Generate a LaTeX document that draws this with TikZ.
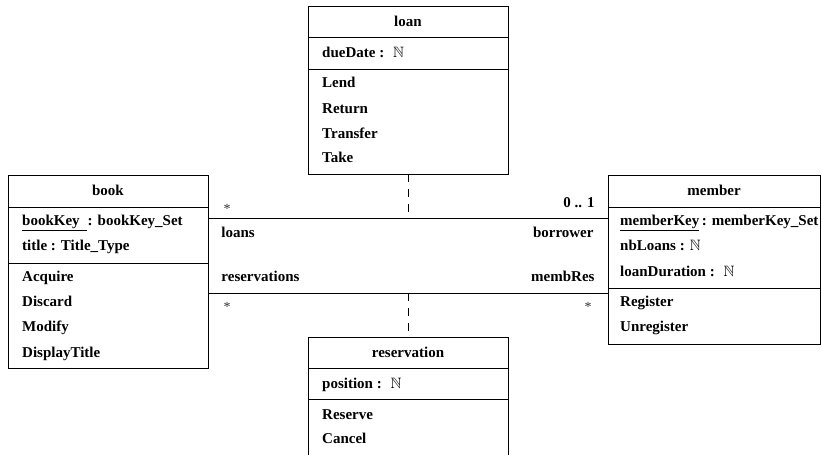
\documentclass[tikz,border=0pt]{standalone}
\usepackage{amssymb}
\usepackage{fontspec}
\setmainfont{Liberation Serif}
\usetikzlibrary{
    positioning,
    calc
}
\newcommand{\nat}{\ensuremath{\mathbb{N}}}

\begin{document}
\begin{tikzpicture}[
    x=1pt, y=-1pt,
    font=\fontsize{15}{18}\selectfont\bfseries,
    umlclass/.style={draw, line width=0.8pt, inner sep=0pt, outer sep=0pt, anchor=north west},
    entry/.style={anchor=base west, inner sep=0pt},
    classname/.style={anchor=base, inner sep=0pt},
    assoc/.style={line width=0.9pt},
    role/.style={inner sep=0pt},
    many/.style={inner sep=0pt, anchor=base, text=black!80, font=\fontsize{14}{16}\selectfont\mdseries},
    link/.style={line width=0.8pt, dash pattern=on 7.5pt off 7.5pt}
]

\useasboundingbox (0,0) rectangle (822,455);
\clip (0,0) rectangle (822,455);

% classes
\node[umlclass, minimum width=200pt, minimum height=168pt] (loan) at (308,6) {};
\draw[line width=0.8pt] (loan.west |- 0,37) -- (loan.east |- 0,37);
\draw[line width=0.8pt] (loan.west |- 0,69) -- (loan.east |- 0,69);

\node[umlclass, minimum width=200pt, minimum height=193pt] (book) at (8,175) {};
\draw[line width=0.8pt] (book.west |- 0,207) -- (book.east |- 0,207);
\draw[line width=0.8pt] (book.west |- 0,263) -- (book.east |- 0,263);

\node[umlclass, minimum width=212pt, minimum height=169pt] (member) at (608,175) {};
\draw[line width=0.8pt] (member.west |- 0,207) -- (member.east |- 0,207);
\draw[line width=0.8pt] (member.west |- 0,288) -- (member.east |- 0,288);

\node[umlclass, minimum width=200pt, minimum height=133pt] (resv) at (308,337) {};
\draw[line width=0.8pt] (resv.west |- 0,368) -- (resv.east |- 0,368);
\draw[line width=0.8pt] (resv.west |- 0,399) -- (resv.east |- 0,399);

% loan
\node[classname] (loanname) at (408,26.5) {loan};
\node[entry] (loanattr) at (322,57) {dueDate : \ \nat};
\node[entry] (lend) at (322,87.5) {Lend};
\node[entry] (return) at (322,113) {Return};
\node[entry] (transfer) at (322,138) {Transfer};
\node[entry] (take) at (322,162.5) {Take};

% book
\node[classname] (bookname) at (108,195) {book};
\node[entry] (bookkey) at (22,225) {\underline{bookKey\hspace{7pt}}\hspace{1pt}: bookKey\_Set};
\node[entry] (booktitle) at (22,250.5) {title : Title\_Type};
\node[entry] (acquire) at (22,281) {Acquire};
\node[entry] (discard) at (22,306) {Discard};
\node[entry] (modify) at (22,331.5) {Modify};
\node[entry] (display) at (22,357) {DisplayTitle};

% member
\node[classname] (membername) at (714,195) {member};
\node[entry] (memberkey) at (620,225) {\underline{memberKey}\,: memberKey\_Set};
\node[entry] (nbloans) at (620,250.5) {nbLoans : \nat};
\node[entry] (duration) at (620,276) {loanDuration : \ \nat};
\node[entry] (register) at (620,306) {Register};
\node[entry] (unregister) at (620,331) {Unregister};

% reservation
\node[classname] (resvname) at (408,357) {reservation};
\node[entry] (position) at (322,388) {position : \ \nat};
\node[entry] (reserve) at (322,419) {Reserve};
\node[entry] (cancel) at (322,443.5) {Cancel};

% associations
\draw[assoc] (book.east |- 0,218) -- (member.west |- 0,218)
    coordinate[pos=0.5] (loanlink)
    node[many, pos=0, xshift=19pt, yshift=5pt] (loanmult) {*}
    node[role, pos=0, anchor=base west, xshift=13pt, yshift=-19pt] (loansrole) {loans}
    node[role, pos=1, anchor=base east, xshift=-13pt, yshift=11pt] (borrowmult) {0 .. 1}
    node[role, pos=1, anchor=base east, xshift=-14pt, yshift=-19pt] (borrowrole) {borrower};

\draw[assoc] (book.east |- 0,293) -- (member.west |- 0,293)
    coordinate[pos=0.5] (resvlink)
    node[role, pos=0, anchor=base west, xshift=13pt, yshift=12pt] (resvrole) {reservations}
    node[many, pos=0, xshift=19pt, yshift=-18pt] (resvmult) {*}
    node[role, pos=1, anchor=base east, xshift=-13pt, yshift=12pt] (membrole) {membRes}
    node[many, pos=1, xshift=-20pt, yshift=-18pt] (membmult) {*};

\draw[link] (loan.south) -- (loanlink);
\draw[link] (resvlink) -- (resv.north);

\end{tikzpicture}
\end{document}
